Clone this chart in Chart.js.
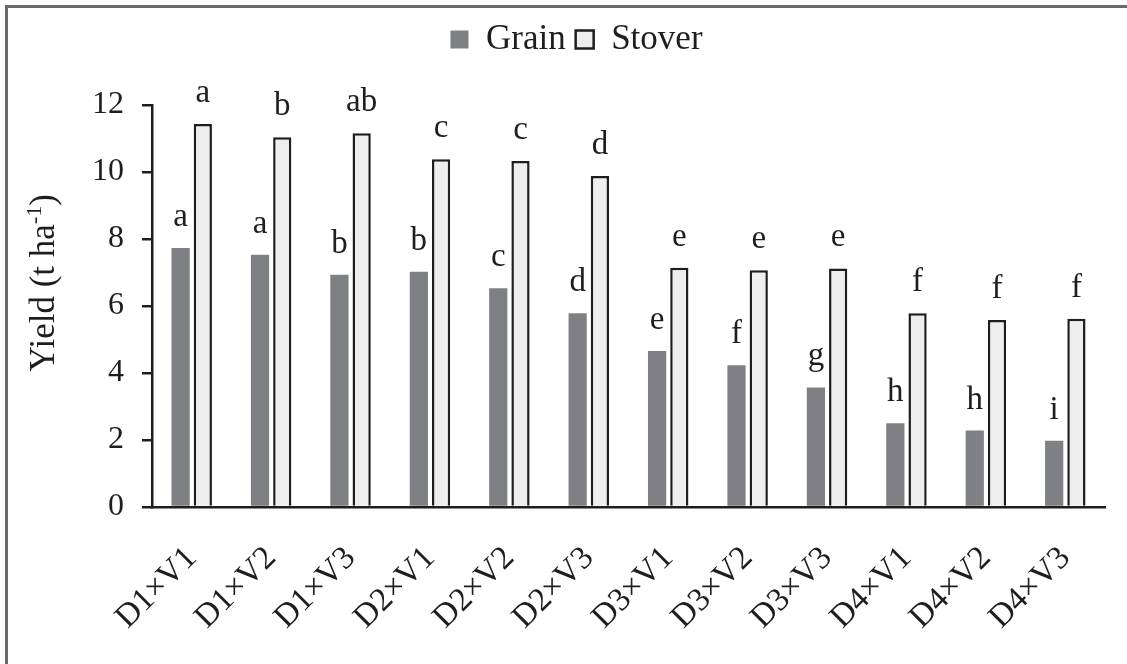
<!DOCTYPE html>
<html>
<head>
<meta charset="utf-8">
<script src="https://cdn.jsdelivr.net/npm/chart.js@4"></script>
<style>
html, body { margin: 0; padding: 0; background: #fff; overflow: hidden; }
#wrap { position: relative; width: 1127px; height: 664px; }
#frame { position: absolute; left: 5px; top: 5px; width: 2000px; height: 2000px;
  border-left: 3px solid #6a6a6a; border-top: 3px solid #6a6a6a; pointer-events: none; }
</style>
</head>
<body>
<div id="wrap">
  <canvas id="myChart" width="1127" height="664"></canvas>
  <div id="frame"></div>
</div>
<script>
const categories = ["D1×V1", "D1×V2", "D1×V3", "D2×V1", "D2×V2", "D2×V3",
  "D3×V1", "D3×V2", "D3×V3", "D4×V1", "D4×V2", "D4×V3"];
const grainYield = [7.73, 7.53, 6.93, 7.02, 6.53, 5.78, 4.66, 4.23, 3.57, 2.50, 2.28, 1.98];
const stoverYield = [11.43, 11.04, 11.16, 10.38, 10.33, 9.88, 7.14, 7.07, 7.12, 5.78, 5.58, 5.62];
const grainLetters = ["a", "a", "b", "b", "c", "d", "e", "f", "g", "h", "h", "i"];
const stoverLetters = ["a", "b", "ab", "c", "c", "d", "e", "e", "e", "f", "f", "f"];
const yTicks = [0, 2, 4, 6, 8, 10, 12];

const serifFont = "Liberation Serif";
const ink = '#1e1e1e';

// letters of significance above each bar
const letterLabels = {
  id: 'letterLabels',
  afterDatasetsDraw(chart) {
    const ctx = chart.ctx;
    const sets = [grainLetters, stoverLetters];
    ctx.save();
    ctx.font = '33px ' + serifFont;
    ctx.fillStyle = ink;
    ctx.textAlign = 'center';
    ctx.textBaseline = 'alphabetic';
    sets.forEach((letters, d) => {
      chart.getDatasetMeta(d).data.forEach((bar, i) => {
        ctx.fillText(letters[i], bar.x, bar.y - 22);
      });
    });
    ctx.restore();
  }
};

// y title with superscript -1
const yTitle = {
  id: 'yTitle',
  afterDraw(chart) {
    const ctx = chart.ctx;
    const part1 = 'Yield (t ha', sup = '-1', part2 = ')';
    ctx.save();
    ctx.fillStyle = ink;
    ctx.textAlign = 'left';
    ctx.textBaseline = 'alphabetic';
    ctx.font = '35px ' + serifFont;
    const w1 = ctx.measureText(part1).width;
    const w2 = ctx.measureText(part2).width;
    ctx.font = '22px ' + serifFont;
    const ws = ctx.measureText(sup).width;
    const total = w1 + ws + w2;
    ctx.translate(54, 283);
    ctx.rotate(-Math.PI / 2);
    let x = -total / 2;
    ctx.font = '35px ' + serifFont;
    ctx.fillText(part1, x, 0);
    x += w1;
    ctx.font = '22px ' + serifFont;
    ctx.fillText(sup, x, -13);
    x += ws;
    ctx.font = '35px ' + serifFont;
    ctx.fillText(part2, x, 0);
    ctx.restore();
  }
};

// push legend down and give room above the plot
const legendRoom = {
  id: 'legendRoom',
  beforeInit(chart) {
    const origFit = chart.legend.fit;
    chart.legend.fit = function () {
      origFit.bind(chart.legend)();
      this.height = 93;
    };
  },
  afterLayout(chart) {
    chart.legend.left += 24;
    chart.legend.right += 24;
  }
};

new Chart(document.getElementById('myChart'), {
  type: 'bar',
  data: {
    labels: categories,
    datasets: [
      {
        label: 'Grain',
        data: grainYield,
        backgroundColor: '#7f8084',
        borderWidth: 0,
        categoryPercentage: 0.56,
        barPercentage: 0.82
      },
      {
        label: 'Stover',
        data: stoverYield,
        backgroundColor: '#eeeeee',
        borderColor: ink,
        borderWidth: 2.5,
        categoryPercentage: 0.56,
        barPercentage: 0.82
      }
    ]
  },
  options: {
    responsive: false,
    animation: false,
    layout: { padding: { top: 12, right: 22, left: 0, bottom: 0 } },
    plugins: {
      legend: {
        position: 'top',
        labels: {
          boxWidth: 18,
          boxHeight: 18,
          padding: 10,
          color: ink,
          font: { family: serifFont, size: 35 }
        }
      },
      tooltip: { enabled: false }
    },
    scales: {
      x: {
        grid: { display: false },
        border: { color: ink, width: 2.5 },
        ticks: {
          color: ink,
          font: { family: serifFont, size: 33 },
          maxRotation: 45,
          minRotation: 45,
          padding: 24
        },
        afterFit(scale) { scale.height = 157; }
      },
      y: {
        min: 0,
        max: 12,
        afterBuildTicks(scale) { scale.ticks = yTicks.map(v => ({ value: v })); },
        grid: { drawOnChartArea: false, tickLength: 10, color: ink, lineWidth: 2.5 },
        border: { color: ink, width: 2.5 },
        ticks: { color: ink, font: { family: serifFont, size: 32 }, padding: 18 },
        afterFit(scale) { scale.width = 152; }
      }
    }
  },
  plugins: [letterLabels, yTitle, legendRoom]
});
</script>
</body>
</html>
